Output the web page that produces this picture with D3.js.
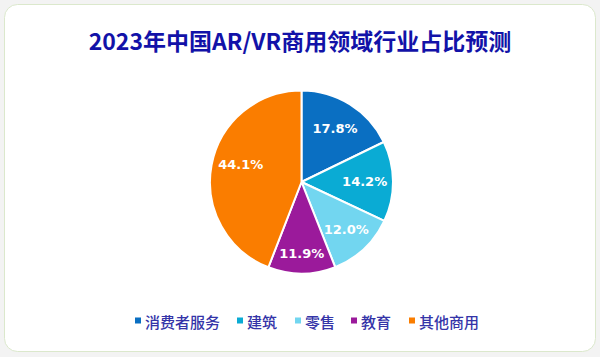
<!DOCTYPE html>
<html>
<head>
<meta charset="utf-8">
<script src="https://cdn.jsdelivr.net/npm/d3@7/dist/d3.min.js"></script>
<style>
  html, body { margin: 0; padding: 0; background: #f3f3f3; }
  svg { display: block; }
</style>
</head>
<body>
<svg id="chart" width="600" height="357"></svg>
<script>
const title = "2023年中国AR/VR商用领域行业占比预测";
const categories = ["消费者服务", "建筑", "零售", "教育", "其他商用"];
const values = [17.8, 14.2, 12.0, 11.9, 44.1];
const labels = ["17.8%", "14.2%", "12.0%", "11.9%", "44.1%"];
const colors = ["#0a6fc2", "#0aabd4", "#72d6f0", "#9b1a9b", "#fa7d00"];

const svg = d3.select("#chart");
const font = "'Noto Sans CJK SC', 'Noto Sans', sans-serif";

// card
svg.append("rect")
  .attr("x", 4.5).attr("y", 4.5).attr("width", 591).attr("height", 347)
  .attr("rx", 13).attr("ry", 13)
  .attr("fill", "#ffffff").attr("stroke", "#dbe8cc").attr("stroke-width", 1);

// title
svg.append("text")
  .attr("x", 300).attr("y", 50)
  .attr("text-anchor", "middle")
  .attr("font-family", font)
  .attr("font-weight", "bold")
  .attr("font-size", 23)
  .attr("fill", "#1212a8")
  .text(title);

// pie
const cx = 301.5, cy = 182, r = 91.5;
const pie = d3.pie().sort(null).value(d => d)
  .startAngle(0).endAngle(2 * Math.PI);
const arcs = pie(values);
const arc = d3.arc().innerRadius(0).outerRadius(r);

const g = svg.append("g").attr("transform", `translate(${cx},${cy})`);
g.selectAll("path.slice").data(arcs).enter().append("path")
  .attr("class", "slice")
  .attr("d", arc)
  .attr("fill", (d, i) => colors[i])
  .attr("stroke", "#ffffff")
  .attr("stroke-width", 2)
  .attr("stroke-linejoin", "round");

// small slices pointing downward get labels pushed further out
function labelPos(d) {
  const mid = (d.startAngle + d.endAngle) / 2;
  const down = Math.max(0, -Math.cos(mid));
  const rr = r * (0.69 + 0.09 * Math.pow(down, 4));
  const a = mid + (d.endAngle - d.startAngle > Math.PI / 2 ? 0.09 : 0);
  return [rr * Math.sin(a), -rr * Math.cos(a)];
}

g.selectAll("text.lbl").data(arcs).enter().append("text")
  .attr("class", "lbl")
  .attr("transform", d => {
    const c = labelPos(d);
    return `translate(${c[0]},${c[1]})`;
  })
  .attr("text-anchor", "middle")
  .attr("dominant-baseline", "central")
  .attr("font-family", "'DejaVu Sans', sans-serif")
  .attr("font-weight", "bold")
  .attr("font-size", 13)
  .attr("fill", "#ffffff")
  .text((d, i) => labels[i]);

// legend
const legendX = [135, 237, 295, 351, 409];
const ly = 321;
const lg = svg.append("g");
categories.forEach((c, i) => {
  lg.append("rect")
    .attr("x", legendX[i]).attr("y", ly - 3.5)
    .attr("width", 6).attr("height", 6)
    .attr("fill", colors[i]);
  lg.append("text")
    .attr("x", legendX[i] + 10).attr("y", ly)
    .attr("dominant-baseline", "central")
    .attr("font-family", font)
    .attr("font-size", 15)
    .attr("font-weight", 500)
    .attr("fill", "#3434a8")
    .text(c);
});
</script>
</body>
</html>
